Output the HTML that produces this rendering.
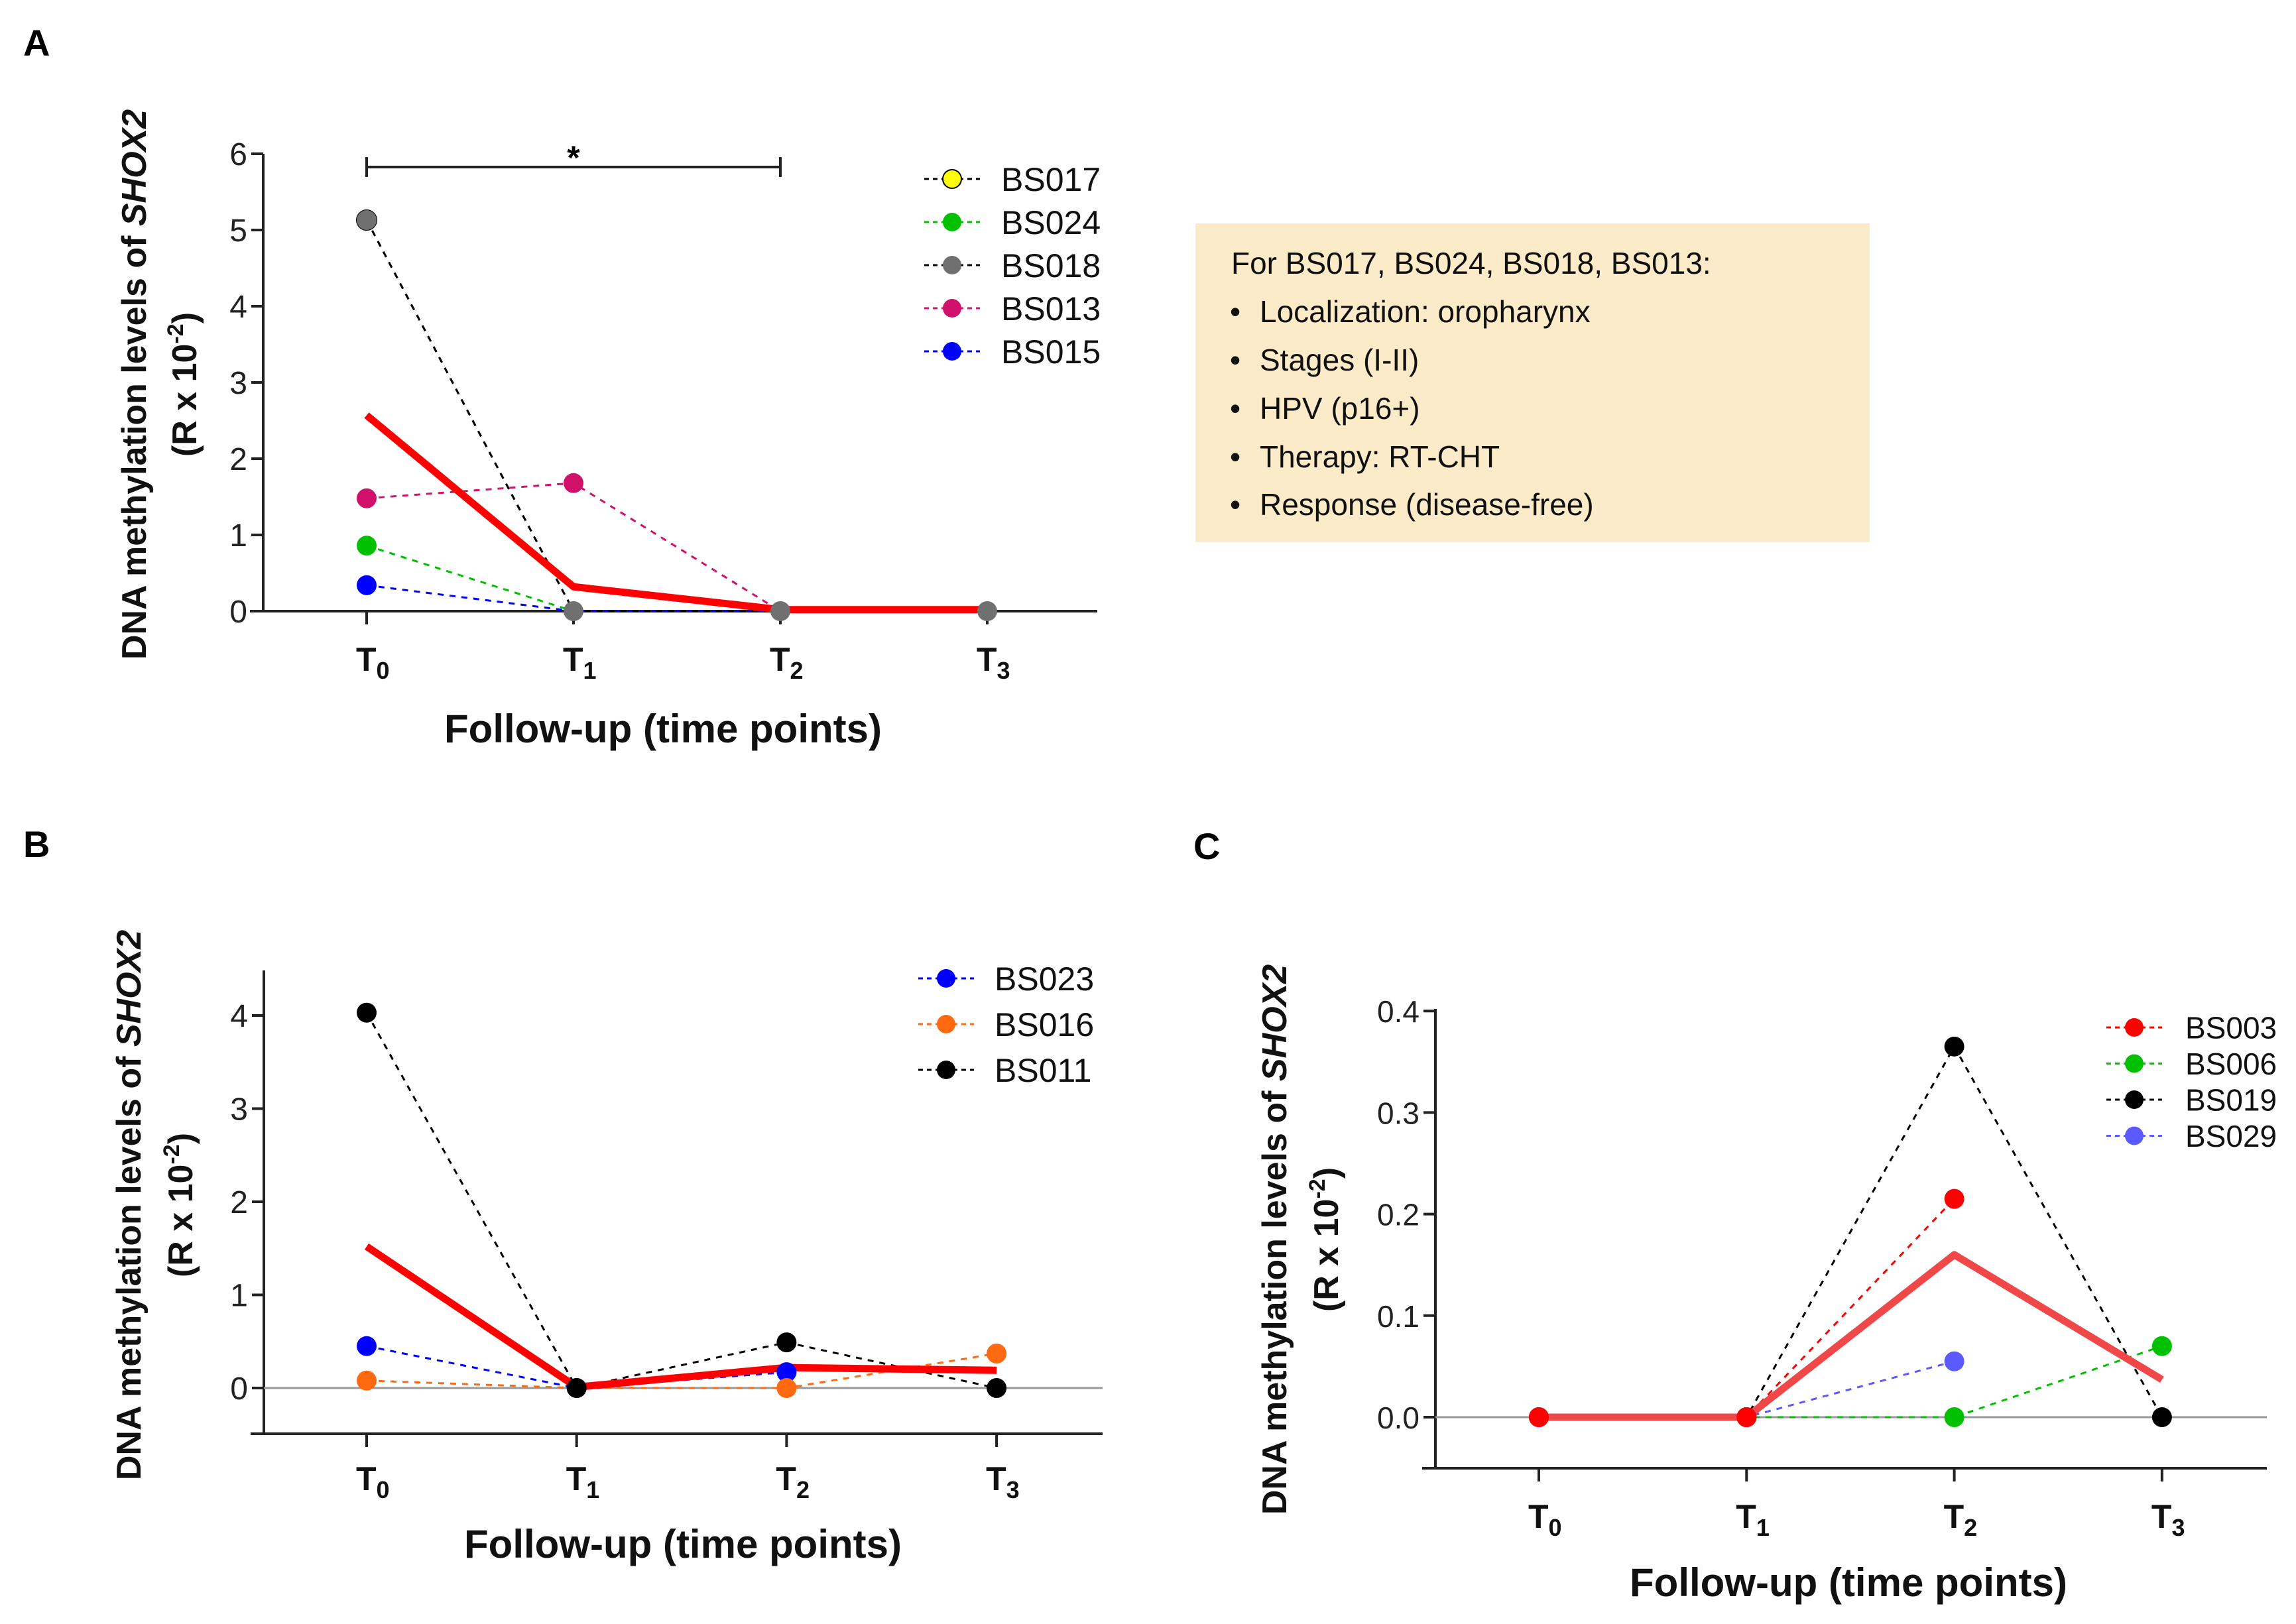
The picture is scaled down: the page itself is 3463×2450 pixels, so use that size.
<!DOCTYPE html>
<html><head><meta charset="utf-8"><style>
html,body{margin:0;padding:0;background:#fff;}
svg{display:block;}
</style></head><body>
<svg id="fig" width="3463" height="2450" viewBox="0 0 3463 2450" xmlns="http://www.w3.org/2000/svg">
<rect width="3463" height="2450" fill="#fff"/>
<g>
<rect x="1803" y="337" width="1017" height="481" fill="#FCEBC8"/>
<g font-family="'Liberation Sans', sans-serif" font-size="46" fill="#111">
<text x="1857" y="413">For BS017, BS024, BS018, BS013:</text>
<text x="1855" y="486">•</text><text x="1900" y="486">Localization: oropharynx</text>
<text x="1855" y="559">•</text><text x="1900" y="559">Stages (I-II)</text>
<text x="1855" y="632">•</text><text x="1900" y="632">HPV (p16+)</text>
<text x="1855" y="705">•</text><text x="1900" y="705">Therapy: RT-CHT</text>
<text x="1855" y="777">•</text><text x="1900" y="777">Response (disease-free)</text>
</g></g>
</svg>
<script>
// ===== Panel A data =====
const catsA = ["0","1","2","3"];
const namesA = ["BS017","BS024","BS018","BS013","BS015"];
const colorsA = ["#FFFF00","#00C000","#707070","#D0106A","#0000FF"];
const BS017 = [5.13, 0, 0, 0];
const BS024 = [0.86, 0, 0, 0];
const BS018 = [5.13, 0, 0, 0];
const BS013 = [1.48, 1.68, 0, 0];
const BS015 = [0.34, 0, 0, 0];
const meanA = [2.57, 0.32, 0.02, 0.02];
const ticksA = [0,1,2,3,4,5,6];
// ===== Panel B data =====
const namesB = ["BS023","BS016","BS011"];
const colorsB = ["#0000FF","#FF6A10","#000000"];
const BS023 = [0.45, 0, 0.17, null];
const BS016 = [0.08, 0, 0, 0.37];
const BS011 = [4.03, 0, 0.49, 0];
const meanB = [1.52, 0.01, 0.22, 0.19];
const ticksB = [0,1,2,3,4];
// ===== Panel C data =====
const namesC = ["BS003","BS006","BS019","BS029"];
const colorsC = ["#FF0000","#00C000","#000000","#5A5AFF"];
const BS003 = [0, 0, 0.215, null];
const BS006 = [0, 0, 0, 0.07];
const BS019 = [0, 0, 0.365, 0];
const BS029 = [0, 0, 0.055, null];
const meanC = [0, 0, 0.16, 0.037];
const ticksC = [0, 0.1, 0.2, 0.3, 0.4];

const NS="http://www.w3.org/2000/svg";
const svg=document.getElementById('fig');
function mk(tag,attrs,parent){const e=document.createElementNS(NS,tag);for(const k in attrs)e.setAttribute(k,attrs[k]);(parent||svg).appendChild(e);return e;}

function panel(cfg){
  const g=mk('g',{});
  
  
  const X=i=>cfg.x0+i*cfg.dx;
  const Y=v=>cfg.y0-(v-0)*cfg.unit;
  const L=mk('text',{x:cfg.lx,y:cfg.ly,'font-family':"'Liberation Sans',sans-serif",'font-size':56,'font-weight':'bold'},g);
  L.textContent=cfg.letter;
  
  
  const ya=mk('line',{x1:cfg.ax,y1:cfg.ayTop,x2:cfg.ax,y2:cfg.axisY,stroke:'#222','stroke-width':4},g);
  
  
  cfg.ticks.forEach(t=>{
    const yy=Y(t);
    mk('line',{x1:cfg.ax-18,y1:yy,x2:cfg.ax,y2:yy,stroke:'#222','stroke-width':4},g);
    const tl=mk('text',{x:cfg.ax-24,y:yy+17,'text-anchor':'end','font-family':"'Liberation Sans Narrow','Liberation Sans',sans-serif",'font-size':cfg.tickFs,fill:'#222'},g);
    tl.textContent=cfg.fmt(t);
    
    
  });
  if(cfg.zeroLine){
    const zl=mk('line',{x1:cfg.ax,y1:Y(0),x2:cfg.axEnd,y2:Y(0),stroke:'#999','stroke-width':3},g);
    
    
  }
  const xa=mk('line',{x1:cfg.ax-20,y1:cfg.axisY,x2:cfg.axEnd,y2:cfg.axisY,stroke:'#222','stroke-width':4},g);
  
  
  catsA.forEach((c,i)=>{
    mk('line',{x1:X(i),y1:cfg.axisY,x2:X(i),y2:cfg.axisY+20,stroke:'#222','stroke-width':4},g);
    const t=mk('text',{x:X(i)-16,y:cfg.tickLabY,'font-family':"'Liberation Sans Narrow','Liberation Sans',sans-serif",'font-size':50,'font-weight':'bold',fill:'#111'},g);
    t.textContent='T';
    const s=mk('tspan',{'font-size':36,dy:12},t);s.textContent=c;
    
    
  });
  const xt=mk('text',{x:cfg.xtX,y:cfg.xtY,'text-anchor':'middle','font-family':"'Liberation Sans Narrow','Liberation Sans',sans-serif",'font-size':60,'font-weight':'bold',fill:'#111',textLength:660,lengthAdjust:'spacingAndGlyphs'},g);
  xt.textContent='Follow-up (time points)';
  
  
  const yt=mk('text',{transform:`translate(${cfg.ytX},${cfg.ytY}) rotate(-90)`,'text-anchor':'middle','font-family':"'Liberation Sans',sans-serif",'font-size':52,'font-weight':'bold',fill:'#111'},g);
  yt.appendChild(document.createTextNode('DNA methylation levels of '));
  const it=mk('tspan',{'font-style':'italic'},yt);it.textContent='SHOX2';
  
  
  const yt2=mk('text',{transform:`translate(${cfg.ytX+cfg.yt2dx},${cfg.ytY}) rotate(-90)`,'text-anchor':'middle','font-family':"'Liberation Sans',sans-serif",'font-size':52,'font-weight':'bold',fill:'#111'},g);
  yt2.appendChild(document.createTextNode('(R x 10'));
  const sp=mk('tspan',{'font-size':34,dy:-20},yt2);sp.textContent='-2';
  const sp2=mk('tspan',{dy:20},yt2);sp2.textContent=')';
  
  
  const order=cfg.drawOrder;
  order.forEach(k=>{
    const vals=cfg.series[k], col=cfg.colors[k];
    const pts=[];vals.forEach((v,i)=>{if(v!==null)pts.push([X(i),Y(v)]);});
    const pl=mk('polyline',{points:pts.map(p=>p.join(',')).join(' '),fill:'none',stroke:cfg.blackLines.includes(k)?'#000':col,'stroke-width':3,'stroke-dasharray':'9,9'},g);
    
    
  });
  const ml=mk('polyline',{points:cfg.mean.map((v,i)=>X(i)+','+Y(v)).join(' '),fill:'none',stroke:cfg.meanColor,'stroke-width':11,'stroke-linejoin':'round'},g);
  
  
  order.forEach(k=>{
    const vals=cfg.series[k], col=cfg.colors[k];
    vals.forEach((v,i)=>{
      if(v===null||(cfg.hideZeroMarkers&&cfg.hideZeroMarkers[k]&&v===0))return;
      const c=mk('circle',{cx:X(i),cy:Y(v),r:15,fill:col,stroke:col==='#FFFF00'?'#000':'none','stroke-width':2},g);
      
      
    });
  });
  cfg.names.forEach((n,k)=>{
    const yy=cfg.legY0+k*cfg.legDy;
    const lg=mk('g',{},g);
    
    
    mk('line',{x1:cfg.legX-42,y1:yy,x2:cfg.legX+42,y2:yy,stroke:cfg.blackLines.includes(k)?'#000':cfg.colors[k],'stroke-width':3,'stroke-dasharray':'7,6'},lg);
    mk('circle',{cx:cfg.legX,cy:yy,r:14,fill:cfg.colors[k],stroke:cfg.colors[k]==='#FFFF00'?'#000':'none','stroke-width':2},lg);
    const t=mk('text',{x:cfg.legTx,y:yy+cfg.legFs*0.36,'font-family':"'Liberation Sans',sans-serif",'font-size':cfg.legFs,fill:'#111'},lg);
    t.textContent=n;
  });
  return {g,X,Y};
}

const A=panel({id:'panel-a',letter:'A',lx:35,ly:84,x0:553,dx:312,y0:922,unit:115,ax:397,ayTop:232,axisY:922,axEnd:1655,
  ticks:ticksA,fmt:t=>String(t),tickFs:48,tickLabY:1012,xtX:1000,xtY:1120,ytX:220,ytY:580,yt2dx:76,
  series:[BS017,BS024,BS018,BS013,BS015],names:namesA,colors:colorsA,drawOrder:[0,1,3,4,2],blackLines:[0,2],
  mean:meanA,meanColor:'#FF0000',legX:1436,legTx:1510,legY0:270,legDy:65,legFs:50,zeroLine:false,
  hideZeroMarkers:{0:1,1:1,3:1,4:1}});
const sig=mk('g',{});


mk('line',{x1:A.X(0),y1:252,x2:A.X(2),y2:252,stroke:'#222','stroke-width':4},sig);
mk('line',{x1:A.X(0),y1:237,x2:A.X(0),y2:267,stroke:'#222','stroke-width':4},sig);
mk('line',{x1:A.X(2),y1:237,x2:A.X(2),y2:267,stroke:'#222','stroke-width':4},sig);
const st=mk('text',{x:(A.X(0)+A.X(2))/2,y:255,'text-anchor':'middle','font-family':"'Liberation Sans',sans-serif",'font-size':50,'font-weight':'bold'},sig);
st.textContent='*';

panel({id:'panel-b',letter:'B',lx:35,ly:1293,x0:553,dx:316.7,y0:2094,unit:140.5,ax:398,ayTop:1464,axisY:2163,axEnd:1663,
  ticks:ticksB,fmt:t=>String(t),tickFs:48,tickLabY:2248,xtX:1030,xtY:2350,ytX:212,ytY:1818,yt2dx:78,
  series:[BS023,BS016,BS011],names:namesB,colors:colorsB,drawOrder:[0,1,2],blackLines:[],
  mean:meanB,meanColor:'#FF0000',legX:1427,legTx:1500,legY0:1476,legDy:69,legFs:50,zeroLine:true});

panel({id:'panel-c',letter:'C',lx:1800,ly:1296,x0:2321,dx:313.3,y0:2138,unit:1532,ax:2165,ayTop:1522,axisY:2215,axEnd:3419,
  ticks:ticksC,fmt:t=>t.toFixed(1),tickFs:46,tickLabY:2305,xtX:2788,xtY:2408,ytX:1940,ytY:1870,yt2dx:78,
  series:[BS003,BS006,BS019,BS029],names:namesC,colors:colorsC,drawOrder:[1,2,3,0],blackLines:[],
  mean:meanC,meanColor:'#F04848',legX:3219,legTx:3296,legY0:1550,legDy:54.5,legFs:46,zeroLine:true});
</script>
</body></html>
